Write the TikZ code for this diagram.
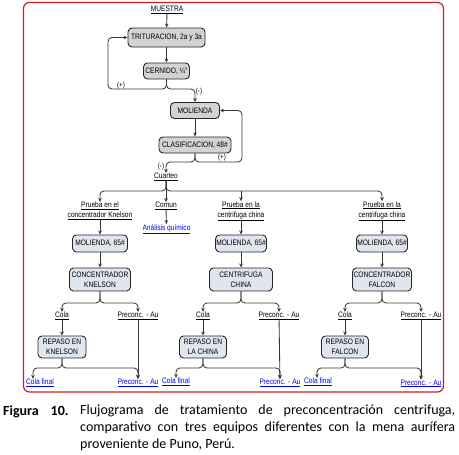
\documentclass[tikz,border=0pt]{standalone}
\usepackage{fontspec}
\setmainfont{Liberation Sans}
\newfontfamily\diagfont{Liberation Sans}[FakeStretch=0.84]
\newfontfamily\capfont{Carlito}
\usetikzlibrary{arrows.meta}
\definecolor{framered}{HTML}{D01E1E}
\definecolor{boxgray}{HTML}{D3D3D3}
\definecolor{boxblue}{HTML}{DFE6EF}
\definecolor{linkblue}{HTML}{0000EE}
\definecolor{linegray}{HTML}{383838}
\begin{document}
\begin{tikzpicture}[x=1pt,y=-1pt,
  every node/.style={font=\diagfont\fontsize{7.9}{10}\selectfont, inner sep=0pt},
  proc/.style={draw=black!85, line width=0.9pt, rounded corners=4pt, align=center},
  topbox/.style={proc, fill=boxgray},
  lowbox/.style={proc, fill=boxblue},
  lbl/.style={align=center},
  link/.style={text=linkblue},
  conn/.style={draw=linegray, line width=0.85pt, -{Stealth[length=4pt,width=3.6pt]}},
  branch/.style={conn, rounded corners=4pt},
  sign/.style={font=\diagfont\fontsize{7.4}{8}\selectfont},
  capt/.style={font=\capfont\fontsize{14}{17}\selectfont}
]
\useasboundingbox (0,0) rectangle (459,455);
\draw[framered, line width=1.2pt, rounded corners=6pt] (23.5,2.5) rectangle (443.5,392);

\coordinate (yA) at (0,89);
\coordinate (yB) at (0,162);
\coordinate (yC) at (0,191);
\coordinate (yD) at (0,303);
\coordinate (yE) at (0,368);
\coordinate (xL) at (108,0);
\coordinate (xR) at (242,0);

% top section
\node[lbl] (muestra) at (167,10) {\underline{MUESTRA}};
\node[topbox, minimum width=77pt, minimum height=19pt] (trit) at (166.5,37.5) {TRITURACION, 2a y 3a};
\node[topbox, minimum width=46pt, minimum height=16pt] (cern) at (166.5,71) {CERNIDO, ¼"};
\node[topbox, minimum width=49pt, minimum height=16pt] (mol) at (195,110.5) {MOLIENDA};
\node[topbox, minimum width=72pt, minimum height=16pt] (clas) at (195,145) {CLASIFICACION, 48\#};
\node[lbl] (cuarteo) at (166,177) {\underline{Cuarteo}};

\node[sign] (s1) at (121,86) {(+)};
\node[sign] (s2) at (199,92) {(-)};
\node[sign] (s3) at (222,158) {(+)};
\node[sign] (s4) at (161,166.5) {(-)};

% second level labels
\node[lbl] (p1) at (100,211) {\underline{Prueba en el}\\\underline{concentrador Knelson}};
\node[lbl] (comun) at (166,206) {\underline{Comun}};
\node[lbl] (p3) at (241,211) {\underline{Prueba en la}\\\underline{centrifuga china}};
\node[lbl] (p4) at (382,211) {\underline{Prueba en la}\\\underline{centrifuga china}};
\node[lbl, link] (analisis) at (166.5,229) {\underline{Análisis químico}};

% molienda 65
\node[lowbox, minimum width=55pt, minimum height=17pt] (m1) at (100,243.5) {MOLIENDA, 65\#};
\node[lowbox, minimum width=51pt, minimum height=17pt] (m3) at (241,243.5) {MOLIENDA, 65\#};
\node[lowbox, minimum width=51pt, minimum height=17pt] (m4) at (382,243.5) {MOLIENDA, 65\#};

% concentrators
\node[lowbox, minimum width=61pt, minimum height=23pt] (c1) at (100,279.5) {CONCENTRADOR\\KNELSON};
\node[lowbox, minimum width=63pt, minimum height=23pt] (c3) at (241,279.5) {CENTRIFUGA\\CHINA};
\node[lowbox, minimum width=59pt, minimum height=23pt] (c4) at (382,279.5) {CONCENTRADOR\\FALCON};

% cola / preconc labels
\node[lbl] (cola1) at (62,316) {\underline{Cola}};
\node[lbl] (pre1) at (138,316) {\underline{Preconc. - Au}};
\node[lbl] (cola3) at (203,316) {\underline{Cola}};
\node[lbl] (pre3) at (279,316) {\underline{Preconc. - Au}};
\node[lbl] (cola4) at (345,316) {\underline{Cola}};
\node[lbl] (pre4) at (421,316) {\underline{Preconc. - Au}};

% repaso
\node[lowbox, minimum width=48pt, minimum height=22pt] (r1) at (62,347) {REPASO EN\\KNELSON};
\node[lowbox, minimum width=47pt, minimum height=22pt] (r3) at (203,347) {REPASO EN\\LA CHINA};
\node[lowbox, minimum width=47pt, minimum height=22pt] (r4) at (345,347) {REPASO EN\\FALCON};

% finals
\node[lbl, link] (cf1) at (40,383) {\underline{Cola final}};
\node[lbl, link] (fp1) at (138,383) {\underline{Preconc. - Au}};
\node[lbl, link] (cf3) at (176,382) {\underline{Cola final}};
\node[lbl, link] (fp3) at (280,383) {\underline{Preconc. - Au}};
\node[lbl, link] (cf4) at (318,382) {\underline{Cola final}};
\node[lbl, link] (fp4) at (421,383.5) {\underline{Preconc. - Au}};

% connectors top
\draw[conn] (muestra) -- (trit);
\draw[conn] (trit) -- (cern);
\draw[branch] (cern.south) |- (xL |- yA) |- (trit.west);
\draw[branch] (cern.south) |- (mol.north |- yA) -- (mol.north);
\draw[conn] (mol) -- (clas);
\draw[branch] (clas.south) |- (xR |- yB) |- (mol.east);
\draw[branch] (clas.south) |- (cuarteo.north |- yB) -- (cuarteo.north);

% cuarteo distribution
\draw[branch] (cuarteo.south) |- (p1.north |- yC) -- (p1.north);
\draw[branch] (cuarteo.south) |- (p4.north |- yC) -- (p4.north);
\draw[conn] (cuarteo.south) -- (comun.north);
\draw[conn] (p3.north |- yC) -- (p3.north);
\draw[conn] (comun) -- (analisis);

% columns
\foreach \p/\m/\c/\co/\pr/\r/\cf/\fp/\dx in {p1/m1/c1/cola1/pre1/r1/cf1/fp1/-7, p3/m3/c3/cola3/pre3/r3/cf3/fp3/0, p4/m4/c4/cola4/pre4/r4/cf4/fp4/-1}{
  \draw[conn] (\p) -- (\m);
  \draw[conn] (\m) -- (\c);
  \draw[branch] (\c.south) |- (\co.north |- yD) -- (\co.north);
  \draw[branch] (\c.south) |- (\pr.north |- yD) -- (\pr.north);
  \draw[conn] (\co) -- (\r);
  \draw[conn] (\pr) -- (\fp);
  \draw[branch] (\r.south) |- ([xshift=\dx pt]\cf.north |- yE) -- ([xshift=\dx pt]\cf.north);
  \draw[branch] (\r.south) |- (\fp.north |- yE) -- (\fp.north);
}

% caption
\node[anchor=base west, font=\capfont\bfseries\fontsize{14}{17}\selectfont] (fig) at (3,415) {Figura\hspace{0.85em}10.};
\node[capt, anchor=north west, text width=375pt, align=justify] (cap) at (80,404.5) {Flujograma de tratamiento de preconcentración centrifuga,\linebreak comparativo con tres equipos diferentes con la mena aurífera\linebreak proveniente de Puno, Perú.};
\end{tikzpicture}
\end{document}
